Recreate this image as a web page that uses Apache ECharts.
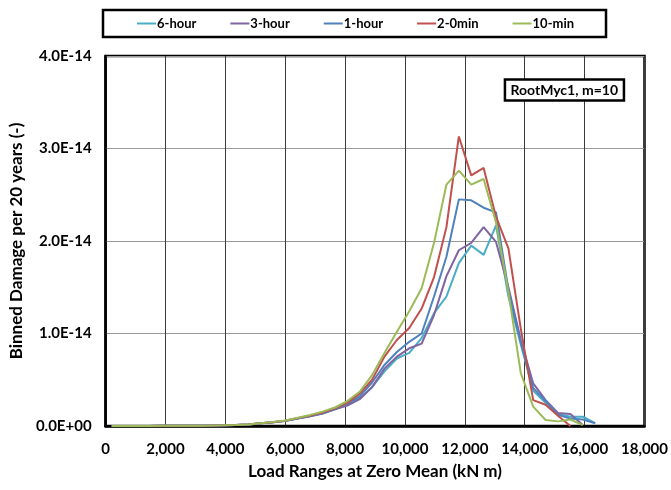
<!DOCTYPE html>
<html>
<head>
<meta charset="utf-8">
<script src="https://cdn.jsdelivr.net/npm/echarts@6/dist/echarts.min.js"></script>
<style>
html,body{margin:0;padding:0;background:#fff;}
#chart{width:671px;height:490px;}
</style>
</head>
<body>
<div id="chart"></div>
<script>
// Load range bin centres (kN m)
const loadRanges = [207, 621, 1035, 1449, 1863, 2277, 2691, 3105, 3519, 3933,
  4347, 4761, 5175, 5589, 6003, 6417, 6831, 7245, 7659, 8073,
  8487, 8901, 9315, 9729, 10143, 10557, 10971, 11385, 11799, 12213,
  12627, 13041, 13455, 13869, 14283, 14697, 15111, 15525, 15939, 16353];

// Binned damage, in units of 1E-14
const sixHour = [0.001,0.001,0.001,0.001,0.002,0.002,0.003,0.004,0.005,0.007,
  0.01,0.015,0.028,0.04,0.055,0.08,0.105,0.135,0.18,
  0.23,0.30,0.42,0.59,0.73,0.79,0.95,1.22,1.40,
  1.76,1.95,1.85,2.17,1.40,0.88,0.38,0.25,0.13,0.10,0.10,0.03];
const threeHour = [0.001,0.001,0.001,0.001,0.002,0.002,0.003,0.004,0.005,0.007,
  0.01,0.015,0.03,0.04,0.056,0.08,0.105,0.135,0.18,
  0.22,0.29,0.42,0.62,0.75,0.84,0.89,1.20,1.62,
  1.90,1.98,2.15,1.99,1.50,0.93,0.46,0.28,0.14,0.13,0.01,null];
const oneHour = [0.001,0.001,0.001,0.001,0.002,0.002,0.003,0.004,0.005,0.007,
  0.01,0.015,0.03,0.04,0.057,0.083,0.11,0.14,0.185,
  0.24,0.32,0.47,0.66,0.80,0.91,1.00,1.40,1.83,
  2.45,2.44,2.36,2.31,1.47,0.90,0.41,0.27,0.12,0.08,0.07,0.03];
const twoZeroMin = [0.001,0.001,0.001,0.001,0.002,0.002,0.003,0.004,0.005,0.007,
  0.01,0.015,0.03,0.04,0.057,0.085,0.112,0.145,0.19,
  0.25,0.35,0.50,0.75,0.93,1.06,1.27,1.61,2.15,
  3.13,2.71,2.79,2.26,1.92,1.05,0.28,0.23,0.11,0.0,null,null];
const tenMin = [0.001,0.001,0.001,0.001,0.002,0.002,0.003,0.004,0.005,0.007,
  0.01,0.016,0.03,0.042,0.06,0.09,0.12,0.155,0.20,
  0.27,0.37,0.55,0.79,1.02,1.24,1.49,1.98,2.61,
  2.76,2.61,2.67,2.20,1.45,0.57,0.21,0.065,0.05,0.07,0.01,null];

const seriesNames = ['6-hour', '3-hour', '1-hour', '2-0min', '10-min'];
const seriesValues = [sixHour, threeHour, oneHour, twoZeroMin, tenMin];
const seriesColors = ['#4BACC6', '#8064A2', '#4F81BD', '#C0504D', '#9BBB59'];

const xTickLabels = ['0', '2,000', '4,000', '6,000', '8,000', '10,000', '12,000', '14,000', '16,000', '18,000'];
const yTickLabels = ['0.0E+00', '1.0E-14', '2.0E-14', '3.0E-14', '4.0E-14'];

const FONT = 'Lato';

const chart = echarts.init(document.getElementById('chart'), null, {renderer: 'canvas'});

const series = seriesNames.map((name, i) => ({
  name: name,
  type: 'line',
  data: loadRanges.map((x, k) => [x, seriesValues[i][k]]),
  showSymbol: false,
  symbol: 'none',
  lineStyle: {width: 2, color: seriesColors[i]},
  itemStyle: {color: seriesColors[i]},
  connectNulls: false,
  animation: false
}));

chart.setOption({
  animation: false,
  backgroundColor: '#ffffff',
  textStyle: {fontFamily: FONT},
  title: {
    text: 'RootMyc1, m=10',
    right: 47,
    top: 79,
    padding: [4, 6, 4, 6],
    borderColor: '#000',
    borderWidth: 2.5,
    backgroundColor: '#fff',
    textStyle: {fontFamily: FONT, fontSize: 14, fontWeight: 'bold', color: '#000'}
  },
  legend: {
    data: seriesNames,
    left: 103,
    top: 10,
    padding: [7, 32, 7, 34],
    itemGap: 34,
    itemWidth: 19,
    itemHeight: 2,
    icon: 'rect',
    borderColor: '#000',
    borderWidth: 2.5,
    textStyle: {fontFamily: FONT, fontSize: 13, fontWeight: 'bold', color: '#000', padding: [0, 0, 0, -4]}
  },
  grid: {
    left: 105,
    right: 25,
    top: 56,
    bottom: 64,
    show: true,
    borderColor: '#000',
    borderWidth: 2.5,
    backgroundColor: '#fff'
  },
  xAxis: {
    type: 'value',
    min: 0,
    max: 18000,
    interval: 2000,
    name: 'Load Ranges at Zero Mean (kN m)',
    nameLocation: 'middle',
    nameGap: 37,
    nameTextStyle: {fontFamily: FONT, fontSize: 17, fontWeight: 'bold', color: '#000'},
    axisLine: {show: true, onZero: false, lineStyle: {color: '#000', width: 2.5}},
    axisTick: {show: false},
    axisLabel: {
      margin: 16,
      fontFamily: FONT, fontSize: 15, fontWeight: 'bold', color: '#000',
      formatter: (v) => xTickLabels[Math.round(v / 2000)]
    },
    splitLine: {show: true, lineStyle: {color: '#3a3a3a', width: 1}}
  },
  yAxis: {
    type: 'value',
    min: 0,
    max: 4,
    interval: 1,
    name: 'Binned Damage per 20 years (-)',
    nameLocation: 'middle',
    nameGap: 79,
    nameTextStyle: {fontFamily: FONT, fontSize: 17, fontWeight: 'bold', color: '#000'},
    axisLine: {show: true, lineStyle: {color: '#000', width: 2.5}},
    axisTick: {show: false},
    axisLabel: {
      margin: 14,
      fontFamily: FONT, fontSize: 15, fontWeight: 'bold', color: '#000',
      formatter: (v) => yTickLabels[Math.round(v)]
    },
    splitLine: {show: true, lineStyle: {color: '#9a9a9a', width: 1}}
  },
  series: series
});
</script>
</body>
</html>
